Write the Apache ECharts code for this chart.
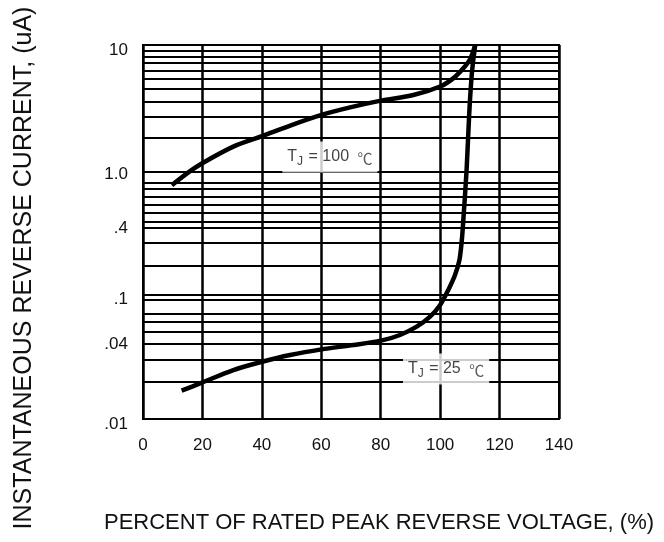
<!DOCTYPE html>
<html>
<head>
<meta charset="utf-8">
<script src="https://cdn.jsdelivr.net/npm/echarts@6/dist/echarts.min.js"></script>
<style>
  html, body { margin: 0; padding: 0; background: #fff; }
  #chart { width: 664px; height: 542px; }
</style>
</head>
<body>
<div id="chart"></div>
<script>
// Reverse leakage current vs. percent of rated PIV, Tj = 25 / 100 C

// x axis (percent of rated voltage)
const xMin = 0;
const xMax = 140;
const xStep = 20;

// y axis decade labels (log scale)
const yDecades = [0.01, 0.1, 1, 10];
const yDecadeText = ['.01', '.1', '1.0', '10'];

// extra y labels that sit between decades
const yExtraValues = [0.34, 0.0415];
const yExtraText = ['.4', '.04'];

// horizontal rulings as drawn on the sheet (not a clean log grid)
const rulings = [
  8.95, 8.01, 7.17, 6.19, 5.34, 4.44, 3.49, 2.65, 1.795, 0.958,
  0.782, 0.70, 0.615, 0.521, 0.449, 0.38, 0.34, 0.258, 0.172, 0.0952, 0.0852,
  0.0722, 0.0634, 0.0537, 0.0463, 0.0351, 0.0271, 0.0177
];

// Tj = 25 C curve
const tj25X = [13.0, 19.2, 30.4, 40.1, 49.5, 60.1, 70.8, 80.1, 86.5, 92.1, 96.6,
  100.0, 102.7, 105.0, 106.5, 107.3, 107.8, 108.9, 109.8, 110.7, 111.8];
const tj25Y = [0.0169, 0.0193, 0.0247, 0.0288, 0.0326, 0.0362, 0.0392, 0.0425, 0.0472, 0.055, 0.0662,
  0.0821, 0.108, 0.143, 0.189, 0.273, 0.395, 0.99, 2.85, 6.0, 10];

// Tj = 100 C curve
const tj100X = [9.7, 14.7, 19.8, 30.4, 40.1, 50.0, 60.1, 69.7, 80.1, 91.0, 100.0, 104.4, 107.8, 110.2, 111.8];
const tj100Y = [0.75, 0.93, 1.12, 1.53, 1.86, 2.28, 2.75, 3.16, 3.58, 3.97, 4.65, 5.4, 6.5, 7.8, 10];

// curve notes: position [x, y] and temperature
const noteAt = [[62.9, 1.264], [102.0, 0.0252]];
const noteTemp = ['100', '25'];

const FONT = 'Liberation Sans, Arial, sans-serif';
const INK = '#111';

const chart = echarts.init(document.getElementById('chart'));
const zip = (xs, ys) => xs.map((x, i) => [x, ys[i]]);

const decadeLabel = v => {
  const k = Math.round(Math.log10(v));
  const i = yDecades.findIndex(d => Math.round(Math.log10(d)) === k);
  return i >= 0 ? '{y|' + yDecadeText[i] + '}' : '';
};

const gridLines = rulings.map(v => ({ yAxis: v }));
const extraLabels = yExtraValues.map((v, i) => ({
  yAxis: v,
  lineStyle: { color: 'rgba(0,0,0,0)', width: 1 },
  label: { show: true, formatter: yExtraText[i] }
}));

const curveStyle = { color: '#000', width: 4.5 };

const option = {
  animation: false,
  backgroundColor: '#fff',
  grid: {
    left: 143, top: 45, right: 105, bottom: 123,
    show: true, borderColor: '#000', borderWidth: 2,
    outerBoundsMode: 'none'
  },
  xAxis: {
    type: 'value',
    min: xMin, max: xMax, interval: xStep,
    axisLine: { show: true, lineStyle: { color: '#000', width: 2 } },
    axisTick: { show: false },
    splitLine: { show: true, lineStyle: { color: '#000', width: 2.5 } },
    axisLabel: { color: INK, fontSize: 17, fontFamily: FONT, margin: 18, showMinLabel: true, showMaxLabel: true },
    name: 'PERCENT OF RATED PEAK REVERSE VOLTAGE, (%)',
    nameLocation: 'middle',
    nameGap: 93,
    nameTextStyle: { color: INK, fontSize: 22, fontFamily: FONT, padding: [0, 0, 0, 56] }
  },
  yAxis: {
    type: 'log', logBase: 10,
    min: 0.01, max: 10,
    axisLine: { show: true, lineStyle: { color: '#000', width: 2 } },
    axisTick: { show: false },
    splitLine: { show: false },
    axisLabel: {
      color: INK, fontSize: 17, fontFamily: FONT, margin: 15,
      formatter: decadeLabel,
      rich: { y: { color: INK, fontSize: 17, fontFamily: FONT, padding: [10, 0, 0, 0] } }
    },
    name: 'INSTANTANEOUS REVERSE CURRENT, (uA)',
    nameLocation: 'middle',
    nameRotate: 90,
    nameGap: 106,
    nameTextStyle: { color: INK, fontSize: 25, fontFamily: FONT, padding: [0, 72, 0, 0] }
  },
  series: [
    {
      name: 'rulings',
      type: 'line',
      data: [],
      z: 2,
      markLine: {
        silent: true,
        symbol: 'none',
        animation: false,
        lineStyle: { color: '#000', width: 2, type: 'solid' },
        label: {
          show: false, position: 'start', distance: 15,
          color: INK, fontSize: 17, fontFamily: FONT
        },
        data: gridLines.concat(extraLabels)
      }
    },
    {
      name: 'Tj = 25',
      type: 'line',
      data: zip(tj25X, tj25Y),
      smooth: 0.3,
      symbol: 'none',
      z: 5,
      lineStyle: curveStyle
    },
    {
      name: 'Tj = 100',
      type: 'line',
      data: zip(tj100X, tj100Y),
      smooth: 0.3,
      symbol: 'none',
      z: 5,
      lineStyle: curveStyle
    },
    {
      name: 'notes',
      type: 'scatter',
      symbolSize: 0,
      z: 8,
      data: noteAt,
      label: {
        show: true,
        position: 'inside',
        backgroundColor: '#fff',
        padding: [5, 5],
        formatter: p => '{t|T}{s|J}{t| = ' + noteTemp[p.dataIndex] + ' }{c|℃}',
        rich: {
          t: { fontSize: 16, fontFamily: FONT, color: INK },
          s: { fontSize: 12, fontFamily: FONT, color: INK, padding: [9, 1, 0, 0] },
          c: { fontSize: 15, fontFamily: 'Noto Sans CJK SC, sans-serif', color: '#333', padding: [2, 0, 0, 4] }
        }
      }
    }
  ]
};

chart.setOption(option);
window.addEventListener('resize', () => chart.resize());
</script>
</body>
</html>
